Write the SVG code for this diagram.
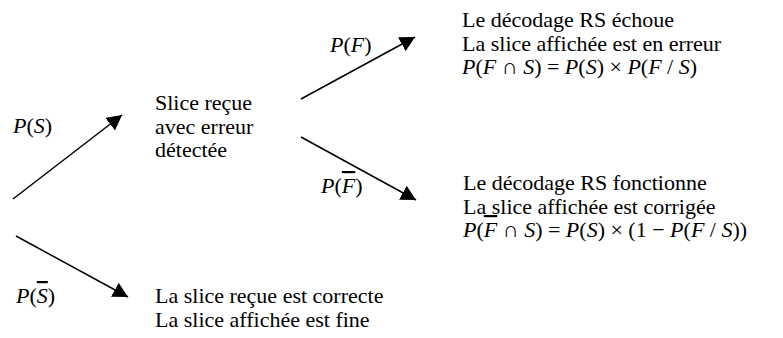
<svg xmlns="http://www.w3.org/2000/svg" width="783" height="338" viewBox="0 0 783 338">
<defs>
<marker id="ah" markerUnits="userSpaceOnUse" viewBox="0 0 15 16" refX="15" refY="8" markerWidth="15" markerHeight="16" orient="auto">
<path d="M0,0 L15,8 L0,16 z" fill="#000"/>
</marker>
</defs>
<rect width="783" height="338" fill="#fff"/>
<g id="connectors" stroke="#000" stroke-width="1.5" fill="none">
<line x1="13" y1="199" x2="122" y2="115" marker-end="url(#ah)"/>
<line x1="301" y1="99" x2="415" y2="37" marker-end="url(#ah)"/>
<line x1="301" y1="137" x2="416" y2="200" marker-end="url(#ah)"/>
<line x1="16" y1="236" x2="128" y2="297" marker-end="url(#ah)"/>
</g>
<g id="edge-labels">
<text x="13" y="133" style="font-family:'Liberation Serif',serif;font-size:22px;fill:#000"><tspan font-style="italic">P</tspan>(<tspan font-style="italic">S</tspan>)</text>
<text x="330" y="52" style="font-family:'Liberation Serif',serif;font-size:22px;fill:#000"><tspan font-style="italic">P</tspan>(<tspan font-style="italic">F</tspan>)</text>
<text x="321" y="193" style="font-family:'Liberation Serif',serif;font-size:22px;fill:#000"><tspan font-style="italic">P</tspan>(<tspan font-style="italic" text-decoration="overline">F</tspan>)</text>
<text x="16" y="303" style="font-family:'Liberation Serif',serif;font-size:22px;fill:#000"><tspan font-style="italic">P</tspan>(<tspan font-style="italic" text-decoration="overline">S</tspan>)</text>
</g>
<g id="node-detected">
<text x="155" y="110" style="font-family:'Liberation Serif',serif;font-size:22px;fill:#000">Slice reçue</text>
<text x="155" y="133.5" style="font-family:'Liberation Serif',serif;font-size:22px;fill:#000">avec erreur</text>
<text x="155" y="157" style="font-family:'Liberation Serif',serif;font-size:22px;fill:#000">détectée</text>
</g>
<g id="node-fail">
<text x="462" y="27" style="font-family:'Liberation Serif',serif;font-size:22px;fill:#000">Le décodage RS échoue</text>
<text x="462" y="50.5" style="font-family:'Liberation Serif',serif;font-size:22px;fill:#000">La slice affichée est en erreur</text>
<text x="462" y="74" style="font-family:'Liberation Serif',serif;font-size:22px;fill:#000"><tspan font-style="italic">P</tspan>(<tspan font-style="italic">F</tspan> ∩ <tspan font-style="italic">S</tspan>) = <tspan font-style="italic">P</tspan>(<tspan font-style="italic">S</tspan>) × <tspan font-style="italic">P</tspan>(<tspan font-style="italic">F</tspan> / <tspan font-style="italic">S</tspan>)</text>
</g>
<g id="node-ok">
<text x="463" y="190" style="font-family:'Liberation Serif',serif;font-size:22px;fill:#000">Le décodage RS fonctionne</text>
<text x="463" y="213.5" style="font-family:'Liberation Serif',serif;font-size:22px;fill:#000">La slice affichée est corrigée</text>
<text x="463" y="237" style="font-family:'Liberation Serif',serif;font-size:22px;fill:#000"><tspan font-style="italic">P</tspan>(<tspan font-style="italic" text-decoration="overline">F</tspan> ∩ <tspan font-style="italic">S</tspan>) = <tspan font-style="italic">P</tspan>(<tspan font-style="italic">S</tspan>) × (1 − <tspan font-style="italic">P</tspan>(<tspan font-style="italic">F</tspan> / <tspan font-style="italic">S</tspan>))</text>
</g>
<g id="node-correct">
<text x="155" y="303" style="font-family:'Liberation Serif',serif;font-size:22px;fill:#000">La slice reçue est correcte</text>
<text x="155" y="326.5" style="font-family:'Liberation Serif',serif;font-size:22px;fill:#000">La slice affichée est fine</text>
</g>
</svg>
